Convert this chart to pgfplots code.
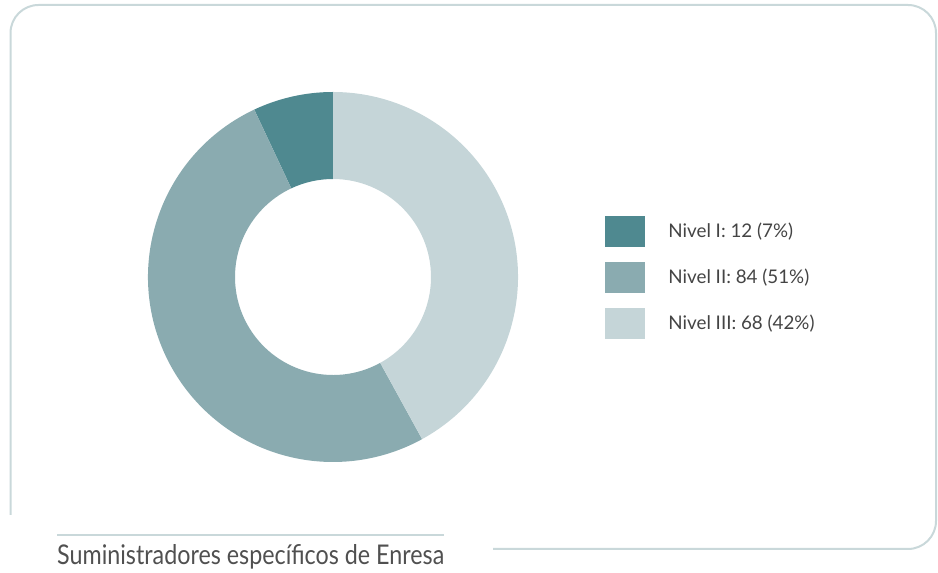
\documentclass[border=0pt]{standalone}
\usepackage{pgfplots}
\pgfplotsset{compat=1.18}
\usepackage{pgfplotstable}
\usepackage{fontspec}
\setmainfont{Lato}
\newfontfamily\capfont{Lato}
\definecolor{cA}{HTML}{4F8990}
\definecolor{cB}{HTML}{8AABB0}
\definecolor{cC}{HTML}{C5D5D8}
\definecolor{framec}{HTML}{C9D8DA}
\definecolor{txt}{HTML}{444444}
\definecolor{captxt}{HTML}{505050}

% value = count, pct = rounded share used for the ring
\pgfplotstableread{
nivel value pct
I 12 7
II 84 51
III 68 42
}\datatable

\begin{document}
\begin{tikzpicture}
\pgfplotstablegetelem{0}{pct}\of\datatable \let\vA\pgfplotsretval
\pgfplotstablegetelem{1}{pct}\of\datatable \let\vB\pgfplotsretval
\pgfplotstablegetelem{2}{pct}\of\datatable \let\vC\pgfplotsretval
\pgfmathsetmacro\tot{\vA+\vB+\vC}
\pgfmathsetmacro\aA{90+\vA/\tot*360}
\pgfmathsetmacro\aB{\aA+\vB/\tot*360}
\def\cx{333}\def\cy{296}\def\Ro{185}\def\Ri{98}
\newcommand\sector[3]{%
  \fill[#1] (axis cs:{\cx+\Ro*cos(#2)},{\cy+\Ro*sin(#2)}) arc[start angle=#2, end angle=#3, radius=\Ro]
    -- (axis cs:{\cx+\Ri*cos(#3)},{\cy+\Ri*sin(#3)}) arc[start angle=#3, end angle=#2, radius=\Ri] -- cycle;}
\useasboundingbox (0,0) rectangle (938pt,573pt);
\clip (0,0) rectangle (938pt,573pt);
\begin{axis}[
  hide axis, x=1pt, y=1pt, scale only axis, disabledatascaling,
  xmin=0, xmax=938, ymin=0, ymax=573, clip=false,
  at={(0,0)}, anchor=south west,
  legend style={at={(axis cs:605,357)}, anchor=north west, draw=none, fill=none,
    inner sep=0pt, outer sep=0pt, row sep=15.5pt,
    font=\fontsize{18.8}{21}\selectfont, text=txt,
    nodes={inner sep=0pt}},
  legend cell align=left,
  legend style={/tikz/every odd column/.append style={column sep=24pt}},
]
\draw[framec, line width=2pt, rounded corners=28pt]
  (axis cs:10.5,58) -- (axis cs:10.5,568) -- (axis cs:936,568) -- (axis cs:936,24) -- (axis cs:493,24);
\draw[framec, line width=2pt] (axis cs:57,38) -- (axis cs:444,38);
\sector{cA}{90}{\aA}
\sector{cB}{\aA}{\aB}
\sector{cC}{\aB}{450}
\node[anchor=base west, inner sep=0pt, text=captxt] at (axis cs:57,8)
  {\resizebox{387pt}{20pt}{\capfont Suministradores específicos de Enresa}};
\addlegendimage{legend image code/.code={\fill[cA] (0pt,-15pt) rectangle (39pt,15pt);}}
\addlegendentry{Nivel I: 12 (7\%)}
\addlegendimage{legend image code/.code={\fill[cB] (0pt,-15pt) rectangle (39pt,15pt);}}
\addlegendentry{Nivel II: 84 (51\%)}
\addlegendimage{legend image code/.code={\fill[cC] (0pt,-15pt) rectangle (39pt,15pt);}}
\addlegendentry{Nivel III: 68 (42\%)}
\end{axis}
\end{tikzpicture}
\end{document}
